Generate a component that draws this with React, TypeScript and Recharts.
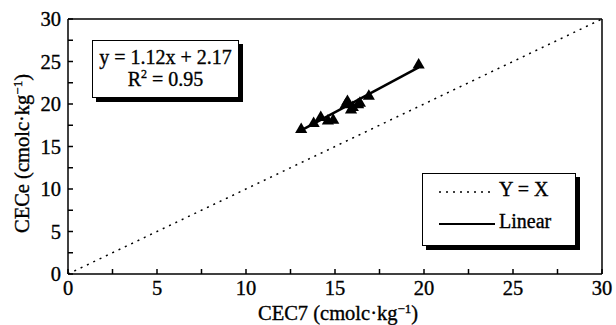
import { ComposedChart, Line, Scatter, XAxis, YAxis, ReferenceLine } from "recharts"

const cec7 = [13.1, 13.8, 14.2, 14.6, 14.9, 15.6, 15.7, 15.9, 16.0, 16.3, 16.4, 16.9, 19.7]
const cece = [17.0, 17.7, 18.4, 18.0, 18.1, 19.9, 20.3, 19.3, 19.6, 19.9, 20.1, 20.9, 24.6]

const fitLine = [
  { x: 13.1, y: 16.9 },
  { x: 19.7, y: 24.3 },
]
const identityLine = [
  { x: 0, y: 0 },
  { x: 30, y: 30 },
]
const ticks = [0, 2.5, 5, 7.5, 10, 12.5, 15, 17.5, 20, 22.5, 25, 27.5, 30]

const points = cec7.map((x, i) => ({ x, y: cece[i] }))

const font = "'Liberation Serif', 'Times New Roman', serif"
const txt: React.CSSProperties = { fontFamily: font, fontSize: 20.5, fill: "#000", stroke: "#000", strokeWidth: 0.35 }

const XTick = (props: any) => {
  const { x, y, payload } = props
  const major = payload.value % 5 === 0
  return (
    <g>
      <line x1={x} y1={y} x2={x} y2={y - 5} stroke="#000" strokeWidth={1.5} />
      {major && (
        <text x={x} y={y + 21} textAnchor="middle" style={txt}>
          {payload.value}
        </text>
      )}
    </g>
  )
}

const YTick = (props: any) => {
  const { x, y, payload } = props
  const major = payload.value % 5 === 0
  return (
    <g>
      <line x1={x} y1={y} x2={x + 5} y2={y} stroke="#000" strokeWidth={1.5} />
      {major && (
        <text x={x - 7} y={y + 7} textAnchor="end" style={txt}>
          {payload.value}
        </text>
      )}
    </g>
  )
}

const boxStyle: React.CSSProperties = {
  position: "absolute",
  background: "#fff",
  border: "1.5px solid #000",
  boxShadow: "4px 4px 0 #000",
  fontFamily: font,
  fontSize: 20,
  color: "#000",
  WebkitTextStroke: "0.35px #000",
  boxSizing: "border-box",
}

export default function App() {
  return (
    <div style={{ position: "absolute", left: 0, top: 0, width: 616, height: 325, background: "#fff" }}>
      <ComposedChart width={616} height={325} margin={{ top: 19, right: 14, bottom: 0, left: 0 }}>
        <XAxis
          type="number"
          dataKey="x"
          domain={[0, 30]}
          ticks={ticks}
          interval={0}
          tickSize={0}
          tickMargin={0}
          tick={<XTick />}
          height={51}
          axisLine={{ stroke: "#000", strokeWidth: 1.5 }}
          allowDataOverflow
        />
        <YAxis
          type="number"
          dataKey="y"
          domain={[0, 30]}
          ticks={ticks}
          interval={0}
          tickSize={0}
          tickMargin={0}
          tick={<YTick />}
          width={68}
          axisLine={{ stroke: "#000", strokeWidth: 1.5 }}
          allowDataOverflow
        />
        <ReferenceLine x={30} stroke="#000" strokeWidth={1.5} />
        <ReferenceLine y={30} stroke="#000" strokeWidth={1.5} />
        <Line
          data={identityLine}
          dataKey="y"
          type="linear"
          stroke="#000"
          strokeWidth={1.5}
          strokeDasharray="2 5"
          dot={false}
          isAnimationActive={false}
        />
        <Line
          data={fitLine}
          dataKey="y"
          type="linear"
          stroke="#000"
          strokeWidth={2.5}
          dot={false}
          isAnimationActive={false}
        />
        <Scatter data={points} dataKey="y" shape="triangle" fill="#000" legendType="none" isAnimationActive={false} />
        <text x={0} y={0} transform="translate(29 233) rotate(-90)" textAnchor="start" style={txt}>
          CECe (cmolc·kg<tspan dy={-7} style={{ fontSize: 13 }}>−1</tspan><tspan dy={7}>)</tspan>
        </text>
        <text x={258} y={320} textAnchor="start" style={txt}>
          CEC7 (cmolc·kg<tspan dy={-7} style={{ fontSize: 13 }}>−1</tspan><tspan dy={7}>)</tspan>
        </text>
      </ComposedChart>
      <div style={{ ...boxStyle, left: 92, top: 40, width: 147, height: 58, textAlign: "center", lineHeight: "22px", paddingTop: 5 }}>
        <div>y = 1.12x + 2.17</div>
        <div>
          R<sup style={{ fontSize: 12, lineHeight: 0 }}>2</sup> = 0.95
        </div>
      </div>
      <div style={{ ...boxStyle, left: 422, top: 173, width: 154, height: 73 }}>
        <svg width={60} height={70} style={{ position: "absolute", left: 14, top: 0 }}>
          <line x1={2} y1={18} x2={58} y2={18} stroke="#000" strokeWidth={1.5} strokeDasharray="2 5" />
          <line x1={2} y1={50} x2={58} y2={50} stroke="#000" strokeWidth={2} />
        </svg>
        <div style={{ position: "absolute", left: 76, top: 4 }}>Y = X</div>
        <div style={{ position: "absolute", left: 76, top: 36 }}>Linear</div>
      </div>
    </div>
  )
}
